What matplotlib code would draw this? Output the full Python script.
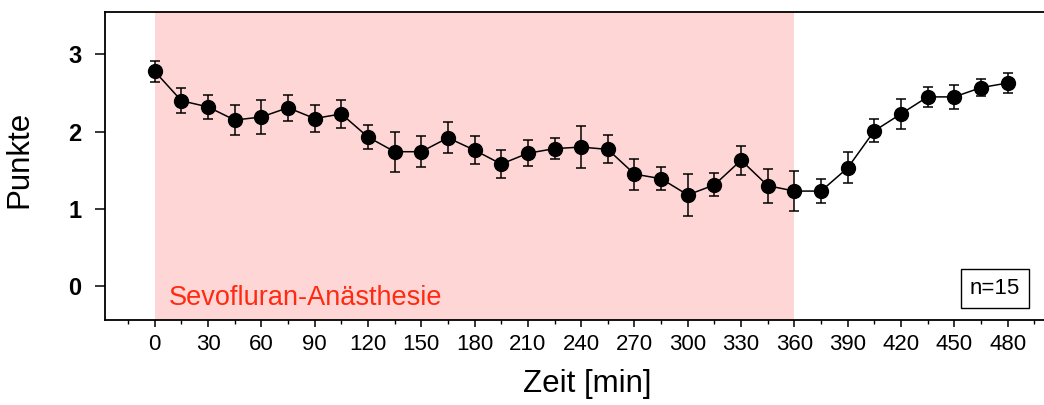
import numpy as np
import matplotlib
matplotlib.use("Agg")
import matplotlib.pyplot as plt
from matplotlib.ticker import MultipleLocator

plt.rcParams['font.family'] = ['Liberation Sans', 'DejaVu Sans']

# time points (min) and mean score with error
minutes = list(range(0, 481, 15))
punkte = [2.78, 2.40, 2.32, 2.15, 2.19, 2.31, 2.17, 2.23, 1.93, 1.74, 1.74,
          1.92, 1.76, 1.58, 1.72, 1.78, 1.80, 1.77, 1.45, 1.39, 1.18, 1.31,
          1.63, 1.30, 1.23, 1.23, 1.53, 2.01, 2.23, 2.45, 2.45, 2.57, 2.63]
fehler = [0.14, 0.16, 0.15, 0.19, 0.22, 0.17, 0.17, 0.18, 0.16, 0.26, 0.20,
          0.20, 0.18, 0.18, 0.17, 0.14, 0.27, 0.18, 0.20, 0.15, 0.27, 0.15,
          0.19, 0.22, 0.26, 0.16, 0.20, 0.15, 0.19, 0.13, 0.16, 0.11, 0.13]
narkose_start, narkose_ende = 0, 360
x_ticks = list(range(0, 481, 30))
y_ticks = [0, 1, 2, 3]

fig = plt.figure(figsize=(10.44, 4.05), dpi=100)
ax = fig.add_axes([0.1006, 0.2099, 0.8994, 0.7605])

ax.axvspan(narkose_start, narkose_ende, color='#ffd6d6', lw=0, zorder=0)
ax.errorbar(minutes, punkte, yerr=fehler, fmt='-o', color='black',
            ms=10, lw=1.1, elinewidth=1.1, capsize=3.6, capthick=1.1, zorder=3)

ax.set_xlim(-28, 500.5)
ax.set_ylim(-0.44, 3.55)
ax.set_xticks(x_ticks)
ax.xaxis.set_minor_locator(MultipleLocator(15))
ax.set_yticks(y_ticks)

ax.spines['right'].set_visible(False)
for s in ['left', 'bottom', 'top']:
    ax.spines[s].set_linewidth(1.3)

ax.tick_params(axis='x', which='major', direction='out', length=5, width=1.1,
               labelsize=16, pad=5)
ax.tick_params(axis='x', which='minor', direction='out', length=3, width=1.0)
ax.tick_params(axis='y', direction='out', length=7, width=1.1, labelsize=17, pad=10)
for lbl in ax.get_yticklabels():
    lbl.set_fontweight('bold')

ax.set_xlabel('Zeit [min]', fontsize=22.5)
ax.xaxis.set_label_coords(0.514, -0.16)
ax.set_ylabel('Punkte', fontsize=22.5)
ax.yaxis.set_label_coords(-0.075, 0.52)

ax.text(8, -0.15, 'Sevofluran-Anästhesie', color='#ff2a10', fontsize=19.5,
        ha='left', va='center')
ax.text(473, -0.03, 'n=15', fontsize=16, ha='center', va='center',
        bbox=dict(boxstyle='square,pad=0.4', fc='white', ec='black', lw=1.0))

fig.savefig('out.png', dpi=100)
